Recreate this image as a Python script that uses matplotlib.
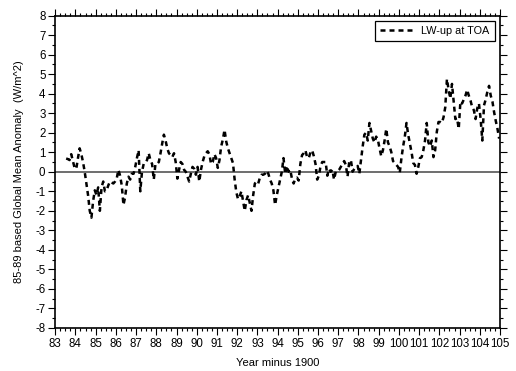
import numpy as np
import matplotlib
matplotlib.use("Agg")
import matplotlib.pyplot as plt
from matplotlib.ticker import MultipleLocator

plt.rcParams['font.family'] = ['Liberation Sans', 'DejaVu Sans']

# monthly anomalies, first value is July 1983
start_year = 83 + 6.5 / 12
anom_1983 = [0.68, 0.65, 0.6, 0.9, 0.55, 0.2]
anom_1984 = [0.15, 0.7, 1.2, 0.9, 0.5, 0.0, -0.6, -1.2, -2.0, -2.35, -1.5, -0.95]
anom_1985 = [-1.2, -0.8, -2.0, -0.8, -0.5, -1.0, -0.95, -0.7, -0.5, -0.55, -0.6, -0.5]
anom_1986 = [-0.35, 0.1, -0.2, -0.7, -1.7, -1.3, -0.6, -0.25, -0.4, -0.1, -0.1, 0.25]
anom_1987 = [0.7, 1.1, -1.0, 0.0, 0.4, 0.45, 0.6, 0.95, 0.6, 0.4, -0.4, 0.4]
anom_1988 = [0.4, 0.5, 0.95, 1.45, 1.9, 1.6, 1.2, 0.95, 0.85, 0.75, 0.95, 0.5]
anom_1989 = [-0.35, 0.1, 0.5, 0.4, 0.1, 0.0, -0.25, -0.5, -0.1, 0.25, 0.15, -0.15]
anom_1990 = [0.25, -0.5, 0.1, 0.5, 0.8, 0.95, 1.05, 0.9, 0.4, 0.5, 0.9, 0.7]
anom_1991 = [0.2, 0.6, 1.3, 1.65, 2.15, 1.55, 1.2, 0.95, 0.7, 0.45, -0.4, -1.05]
anom_1992 = [-1.4, -1.25, -1.0, -1.5, -2.0, -1.45, -1.2, -1.6, -2.0, -1.2, -0.6, -0.5]
anom_1993 = [-0.6, -0.3, -0.15, -0.15, -0.1, 0.05, -0.1, -0.4, -0.6, -0.95, -1.7, -1.2]
anom_1994 = [-0.8, -0.4, 0.0, 0.7, -0.1, 0.3, 0.0, 0.1, -0.35, -0.6, -0.35, -0.3]
anom_1995 = [-0.45, 0.4, 0.85, 0.95, 1.1, 0.75, 0.7, 1.0, 1.1, 0.8, 0.4, -0.4]
anom_1996 = [-0.2, 0.3, 0.5, 0.5, 0.5, -0.2, 0.15, 0.0, 0.1, -0.4, 0.0, 0.0]
anom_1997 = [0.1, 0.25, 0.4, 0.55, 0.35, -0.25, 0.5, 0.6, 0.0, 0.15, 0.2, 0.3]
anom_1998 = [-0.1, 0.6, 1.3, 1.9, 2.0, 1.6, 2.5, 2.1, 1.7, 1.5, 1.8, 1.65]
anom_1999 = [1.2, 0.8, 1.1, 1.6, 2.2, 1.5, 1.3, 1.0, 0.55, 0.45, 0.35, 0.25]
anom_2000 = [-0.05, 0.7, 1.3, 1.8, 2.5, 1.9, 1.45, 1.0, 0.45, 0.35, -0.1, 0.25]
anom_2001 = [0.7, 0.75, 1.1, 1.6, 2.5, 1.5, 1.3, 1.6, 0.75, 1.1, 2.05, 2.55]
anom_2002 = [2.55, 2.5, 2.8, 3.3, 4.75, 4.2, 3.75, 4.5, 3.6, 2.7, 2.75, 2.2]
anom_2003 = [3.6, 3.5, 3.7, 3.9, 4.2, 3.9, 3.65, 3.3, 3.15, 2.7, 3.25, 3.5]
anom_2004 = [2.7, 1.6, 3.4, 3.7, 4.1, 4.4, 3.9, 3.6, 3.05, 2.6, 2.2, 1.7]

anomaly = (anom_1983 + anom_1984 + anom_1985 + anom_1986 + anom_1987 + anom_1988
           + anom_1989 + anom_1990 + anom_1991 + anom_1992 + anom_1993 + anom_1994
           + anom_1995 + anom_1996 + anom_1997 + anom_1998 + anom_1999 + anom_2000
           + anom_2001 + anom_2002 + anom_2003 + anom_2004)
years = start_year + np.arange(len(anomaly)) / 12.0

x_ticks = list(range(83, 106))
y_ticks = list(range(-8, 9))

fig = plt.figure(figsize=(5.16, 3.71), dpi=100)
ax = fig.add_axes([0.107, 0.116, 0.862, 0.842])

ax.axhline(0, color='#6e6e6e', lw=1.4, zorder=1)
ax.plot(years, anomaly, color='black', lw=1.8, dashes=(2.0, 1.6),
        label='LW-up at TOA', zorder=2)

ax.set_xlim(83, 105)
ax.set_ylim(-8, 8)
ax.set_xticks(x_ticks)
ax.set_xticklabels([str(t) for t in x_ticks])
ax.set_yticks(y_ticks)
ax.set_yticklabels([str(t) for t in y_ticks])
ax.xaxis.set_minor_locator(MultipleLocator(0.25))
ax.yaxis.set_minor_locator(MultipleLocator(0.5))
ax.tick_params(which='both', direction='out', top=True, right=True,
               labeltop=False, labelright=False, labelsize=8.3, width=0.8)
ax.tick_params(which='major', length=5, pad=2)
ax.tick_params(which='minor', length=2.5)
for sp in ax.spines.values():
    sp.set_linewidth(1.2)

ax.set_xlabel('Year minus 1900', fontsize=8, labelpad=6)
ax.set_ylabel('85-89 based Global Mean Anomaly  (W/m^2)', fontsize=8, labelpad=8)

leg = ax.legend(loc='upper right', fontsize=7.8, frameon=True, fancybox=False,
                handlelength=3.0, borderpad=0.45, borderaxespad=0.5)
leg.get_frame().set_edgecolor('black')
leg.get_frame().set_linewidth(0.9)
leg.get_frame().set_alpha(1)

fig.savefig('out.png', dpi=100)
